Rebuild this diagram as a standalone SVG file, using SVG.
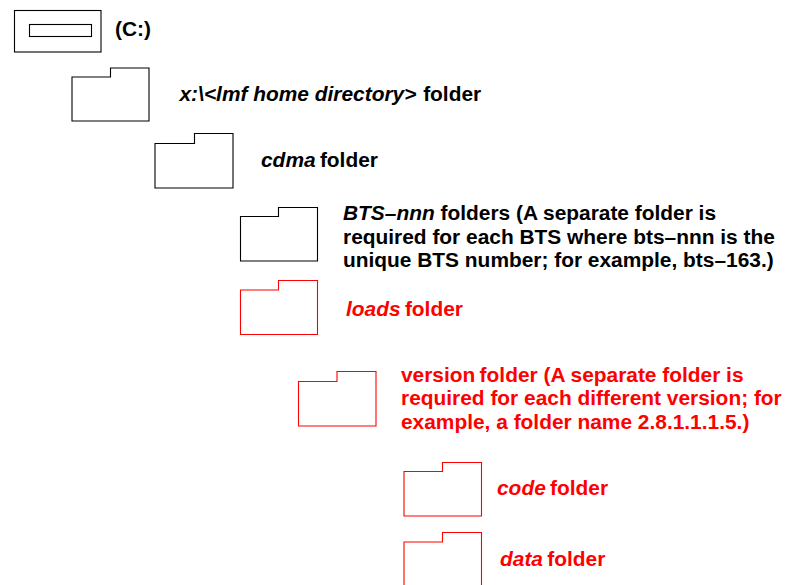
<svg xmlns="http://www.w3.org/2000/svg" width="795" height="585" viewBox="0 0 795 585">
<style>
text{font-family:"Liberation Sans",Arial,sans-serif;font-weight:700;font-size:20.900px}
.k{fill:#000}.r{fill:#f00}
.i{font-style:italic}
.s{fill:#fff;stroke-width:1.1}
.ks{stroke:#000}.rs{stroke:#f00}
</style>
<rect width="795" height="585" fill="#fff"/>
<g id="connectors"/>
<g id="drive"><rect class="s ks" x="14.5" y="10.5" width="86.5" height="41.5"/><rect class="s ks" x="29.5" y="24.5" width="62" height="12"/><text class="k" x="115" y="36">(C:)</text></g>
<g id="lmf"><path class="s ks" d="M72 77H110.5V68H149V121H72Z"/><text class="k" x="179.500" y="101"><tspan class="i">x:\&lt;lmf home directory&gt;</tspan><tspan dx="1"> folder</tspan></text></g>
<g id="cdma"><path class="s ks" d="M155 143.5H194.500V133.500H233V188H155Z"/><text class="k" x="261" y="167"><tspan class="i">cdma</tspan><tspan dx="-1.500"> folder</tspan></text></g>
<g id="bts"><path class="s ks" d="M240.500 216.500H278.500V207.500H317.500V261H240.500Z"/><text class="k" x="343" y="220"><tspan class="i">BTS–nnn</tspan> folders (A separate folder is</text><text class="k" x="343" y="243.500">required for each BTS where bts–nnn is the</text><text class="k" x="343" y="267">unique BTS number; for example, bts–163.)</text></g>
<g id="loads"><path class="s rs" d="M240.500 290H278.500V280.500H317.500V334.500H240.500Z"/><text class="r" x="346" y="315.500"><tspan class="i">loads</tspan><tspan dx="-1.500"> folder</tspan></text></g>
<g id="version"><path class="s rs" d="M298.500 381.500H337V371.500H376V426H298.500Z"/><text class="r" x="401" y="382">version<tspan dx="-1.500"> folder (A separate folder is</tspan></text><text class="r" x="401" y="405">required for each different version; for</text><text class="r" x="401" y="428.500">example, a folder name 2.8.1.1.1.5.)</text></g>
<g id="code"><path class="s rs" d="M404 471.500H442.500V462.500H481.500V516H404Z"/><text class="r" x="497" y="494.500"><tspan class="i">code</tspan><tspan dx="-1.500"> folder</tspan></text></g>
<g id="data"><path class="s rs" d="M404 542H442.500V532.500H481.500V586H404Z"/><text class="r" x="500" y="565.500"><tspan class="i">data</tspan><tspan dx="-1.500"> folder</tspan></text></g>
</svg>
